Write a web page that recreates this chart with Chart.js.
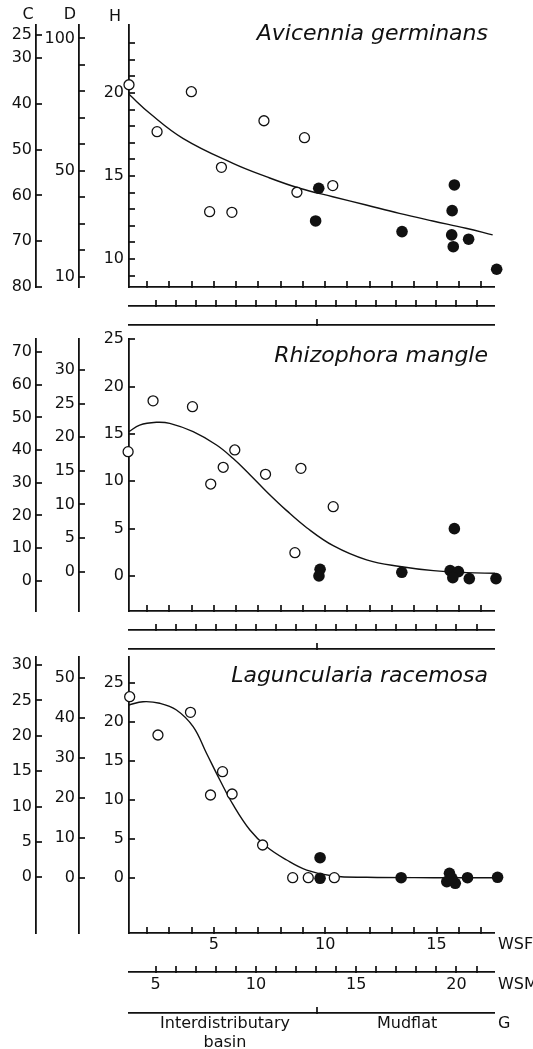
<!DOCTYPE html>
<html>
<head>
<meta charset="utf-8">
<title>Avicennia, Rhizophora, Laguncularia</title>
<script src="https://cdn.jsdelivr.net/npm/chart.js@4.4.1/dist/chart.umd.min.js"></script>
<style>
  html, body { margin: 0; padding: 0; background: #fff; }
  #sheet { position: relative; width: 533px; height: 1049px; overflow: hidden; }
  #sheet canvas { position: absolute; left: 0; top: 0; }
</style>
</head>
<body>
<div id="sheet">
  <canvas id="avi" width="533" height="1049"></canvas>
  <canvas id="rhi" width="533" height="1049"></canvas>
  <canvas id="lag" width="533" height="1049"></canvas>
</div>
<script>
// x axes, shared by the three panels
const wsfTicks = [2, 3, 4, 5, 6, 7, 8, 9, 10, 11, 12, 13, 14, 15, 16, 17];
const wsfLabels = [5, 10, 15];
const wsmTicks = [5, 6, 7, 8, 9, 10, 11, 12, 13, 14, 15, 16, 17, 18, 19, 20, 21];
const wsmLabels = [5, 10, 15, 20];
const gBoundary = [9.65];
const gNameAt = [5.5, 13.68];
const gNames = [['Interdistributary', 'basin'], 'Mudflat'];

// Avicennia germinans
const aviOpenX = [1.19, 2.45, 3.99, 5.34, 4.81, 5.81, 7.25, 9.07, 8.73, 10.34];
const aviOpenY = [20.5, 17.67, 20.08, 15.52, 12.85, 12.81, 18.33, 17.31, 14.02, 14.42];
const aviFillX = [9.71, 9.57, 13.45, 15.80, 15.70, 15.68, 15.75, 16.44, 17.70];
const aviFillY = [14.26, 12.29, 11.65, 14.46, 12.91, 11.45, 10.74, 11.19, 9.38];
const aviCurveX = [1.19, 2.12, 3.61, 5.86, 7.35, 8.85, 10.34, 11.84, 13.33, 14.83, 16.32, 17.52];
const aviCurveY = [19.92, 18.78, 17.27, 15.76, 14.96, 14.26, 13.75, 13.25, 12.75, 12.29, 11.85, 11.45];
const aviCTicks = [25, 30, 40, 50, 60, 70, 80];
const aviDTicks = [10, 20, 30, 40, 50, 60, 70, 80, 90, 100];
const aviDLabels = [10, 50, 100];
const aviHTicks = [9, 10, 11, 12, 13, 14, 15, 16, 17, 18, 19, 20, 21, 22, 23];
const aviHLabels = [10, 15, 20];

// Rhizophora mangle
const rhiOpenX = [1.15, 2.27, 4.04, 4.86, 5.42, 5.94, 7.32, 8.91, 10.36, 8.64];
const rhiOpenY = [13.13, 18.5, 17.88, 9.71, 11.48, 13.31, 10.74, 11.37, 7.32, 2.46];
const rhiFillX = [9.77, 9.72, 13.44, 15.80, 15.61, 15.98, 15.73, 16.47, 17.67];
const rhiFillY = [0.7, 0.0, 0.39, 5.0, 0.56, 0.46, -0.18, -0.28, -0.28];
const rhiCurveX = [1.19, 1.67, 2.42, 3.02, 4.07, 5.12, 5.87, 6.62, 7.37, 8.27, 9.17, 10.36, 11.86, 13.36, 14.86, 16.36, 17.63];
const rhiCurveY = [15.24, 15.94, 16.23, 16.12, 15.24, 13.83, 12.4, 10.7, 8.9, 6.9, 5.1, 3.2, 1.7, 1.0, 0.56, 0.35, 0.28];
const rhiCTicks = [0, 10, 20, 30, 40, 50, 60, 70];
const rhiDTicks = [0, 5, 10, 15, 20, 25, 30];
const rhiHTicks = [0, 5, 10, 15, 20, 25];

// Laguncularia racemosa
const lagOpenX = [1.22, 2.49, 3.95, 4.85, 5.39, 5.82, 7.19, 8.54, 9.24, 10.41];
const lagOpenY = [23.28, 18.37, 21.28, 10.68, 13.67, 10.81, 4.27, 0.08, 0.08, 0.08];
const lagFillX = [9.77, 9.77, 13.41, 15.58, 15.46, 15.84, 15.69, 16.39, 17.74];
const lagFillY = [2.64, 0, 0.08, 0.64, -0.43, -0.64, 0, 0.08, 0.13];
const lagCurveX = [1.19, 1.82, 2.57, 3.32, 4.07, 4.67, 5.27, 5.87, 6.62, 7.37, 8.27, 9.17, 10.36, 11.86, 14.86, 17.71];
const lagCurveY = [22.22, 22.64, 22.44, 21.58, 19.44, 16.03, 12.6, 9.4, 6.19, 4.05, 2.35, 1.06, 0.29, 0.13, 0.08, 0.08];
const lagCTicks = [0, 5, 10, 15, 20, 25, 30];
const lagDTicks = [0, 10, 20, 30, 40, 50];
const lagHTicks = [0, 5, 10, 15, 20, 25];

const INK = '#111';
const FONT = { family: 'DejaVu Sans', size: 16, weight: 'normal', lineHeight: 1.2 };
const TICK = 6;

const pairs = (xs, ys) => xs.map((x, i) => ({ x: x, y: ys[i] }));

function tickList(values, extra) {
    return values.concat(extra || []).map(v => ({ value: v }));
}

// inward tick marks, species names and axis names
const sketch = {
    id: 'sketch',
    afterDraw(chart, args, o) {
        const ctx = chart.ctx;
        const area = chart.chartArea;
        ctx.save();
        ctx.strokeStyle = INK;
        ctx.fillStyle = INK;
        ctx.lineWidth = 1.7;
        Object.keys(o.marks).forEach(id => {
            const s = chart.scales[id];
            o.marks[id].forEach(v => {
                const p = Math.round(s.getPixelForValue(v));
                ctx.beginPath();
                if (s.isHorizontal()) {
                    ctx.moveTo(p, s.top + 1);
                    ctx.lineTo(p, s.top - TICK);
                } else {
                    ctx.moveTo(s.right - 1, p);
                    ctx.lineTo(s.right + TICK, p);
                }
                ctx.stroke();
            });
        });

        ctx.font = 'italic 22px "DejaVu Sans"';
        ctx.textAlign = 'right';
        ctx.textBaseline = 'alphabetic';
        ctx.fillText(o.species, area.right - 6, area.top + o.drop);

        ctx.font = '16px "DejaVu Sans"';
        ctx.textBaseline = 'middle';
        (o.names || []).forEach(n => {
            const s = chart.scales[n.axis];
            if (s.isHorizontal()) {
                ctx.textAlign = 'left';
                ctx.fillText(n.text, s.right + 4, s.top + n.dy);
            } else {
                ctx.textAlign = 'center';
                ctx.fillText(n.text, s.right + n.dx, area.top + n.dy);
            }
        });
        ctx.restore();
    }
};

function yAxis(weight, width, range, values, labels, pad, reverse) {
    return {
        axis: 'y', type: 'linear', position: 'left', weight: weight,
        min: range[0], max: range[1], reverse: !!reverse, bounds: 'data',
        afterBuildTicks: s => { s.ticks = tickList(values); },
        afterFit: s => { s.width = width; },
        grid: { drawOnChartArea: false, drawTicks: false },
        border: { color: INK, width: 1.8 },
        ticks: {
            autoSkip: false, padding: pad, color: INK, font: FONT,
            callback: v => labels.includes(v) ? String(v) : ''
        }
    };
}

function xAxis(weight, height, range, values, labelFor, pad, show, extra) {
    return {
        axis: 'x', type: 'linear', position: 'bottom', weight: weight,
        min: range[0], max: range[1], bounds: 'data',
        afterBuildTicks: s => { s.ticks = tickList(values, extra); },
        afterFit: s => { s.height = height; },
        grid: { drawOnChartArea: false, drawTicks: false },
        border: { color: INK, width: 1.8 },
        ticks: {
            display: show, autoSkip: false, maxRotation: 0, padding: pad,
            color: INK, font: FONT, callback: labelFor
        }
    };
}

function makePanel(id, p) {
    const wsfRange = [1.19, 17.58];
    const datasets = [
        { data: pairs(p.openX, p.openY), pointRadius: 5, pointBorderWidth: 1.3,
          pointBackgroundColor: '#fff', pointBorderColor: INK },
        { data: pairs(p.fillX, p.fillY), pointRadius: 5.8, pointBorderWidth: 0,
          pointBackgroundColor: INK, pointBorderColor: INK },
        { data: pairs(p.curveX, p.curveY), showLine: true, pointRadius: 0,
          borderColor: INK, borderWidth: 1.4, tension: 0.4 }
    ].map(d => Object.assign({ xAxisID: 'x', yAxisID: 'h', clip: false }, d));

    return new Chart(document.getElementById(id), {
        type: 'scatter',
        data: { datasets: datasets },
        options: {
            responsive: false,
            animation: false,
            events: [],
            layout: { autoPadding: false, padding: { left: 0, right: 39, top: p.top, bottom: p.bottom } },
            plugins: {
                legend: { display: false },
                tooltip: { enabled: false },
                sketch: {
                    species: p.species, drop: p.drop, names: p.names,
                    marks: { x: wsfTicks, wsm: wsmTicks, g: gBoundary, c: p.cTicks, d: p.dTicks, h: p.hTicks }
                }
            },
            scales: {
                x: xAxis(0, p.xh[0], wsfRange, wsfTicks,
                    v => wsfLabels.includes(v) ? String(v) : '', 2.4, p.showX),
                wsm: xAxis(1, p.xh[1], [3.67, 21.87], wsmTicks,
                    v => wsmLabels.includes(v) ? String(v) : '', 3.4, p.showX),
                g: xAxis(2, p.xh[2], wsfRange, gBoundary, v => {
                    const i = gNameAt.indexOf(v);
                    return i < 0 ? '' : gNames[i];
                }, 1.4, p.showX, gNameAt),
                c: yAxis(2, 36, p.cRange, p.cTicks, p.cTicks, 4, p.cReverse),
                d: yAxis(1, 43, p.dRange, p.dTicks, p.dLabels, 4),
                h: yAxis(0, 50, p.hRange, p.hTicks, p.hLabels, 5)
            }
        },
        plugins: [sketch]
    });
}

makePanel('avi', {
    species: 'Avicennia germinans', drop: 15,
    openX: aviOpenX, openY: aviOpenY, fillX: aviFillX, fillY: aviFillY,
    curveX: aviCurveX, curveY: aviCurveY,
    top: 25, bottom: 714, xh: [19, 19, 10], showX: false,
    hRange: [8.31, 24.10], hTicks: aviHTicks, hLabels: aviHLabels,
    cRange: [22.8, 80], cTicks: aviCTicks, cReverse: true,
    dRange: [6.1, 105.1], dTicks: aviDTicks, dLabels: aviDLabels,
    names: [
        { axis: 'c', text: 'C', dx: -8, dy: -10 },
        { axis: 'd', text: 'D', dx: -9, dy: -10 },
        { axis: 'h', text: 'H', dx: -14, dy: -8 }
    ]
});

makePanel('rhi', {
    species: 'Rhizophora mangle', drop: 23,
    openX: rhiOpenX, openY: rhiOpenY, fillX: rhiFillX, fillY: rhiFillY,
    curveX: rhiCurveX, curveY: rhiCurveY,
    top: 339, bottom: 394, xh: [19, 19, 6], showX: false,
    hRange: [-3.70, 25.03], hTicks: rhiHTicks, hLabels: rhiHTicks,
    cRange: [-9.27, 73.98], cTicks: rhiCTicks,
    dRange: [-5.85, 34.61], dTicks: rhiDTicks, dLabels: rhiDTicks
});

makePanel('lag', {
    species: 'Laguncularia racemosa', drop: 25,
    openX: lagOpenX, openY: lagOpenY, fillX: lagFillX, fillY: lagFillY,
    curveX: lagCurveX, curveY: lagCurveY,
    top: 657, bottom: 0, xh: [39, 41, 36], showX: true,
    hRange: [-7.01, 28.37], hTicks: lagHTicks, hLabels: lagHTicks,
    cRange: [-7.87, 31.13], cTicks: lagCTicks,
    dRange: [-13.7, 55.3], dTicks: lagDTicks, dLabels: lagDTicks,
    names: [
        { axis: 'x', text: 'WSF', dy: 12 },
        { axis: 'wsm', text: 'WSM', dy: 13 },
        { axis: 'g', text: 'G', dy: 11 }
    ]
});
</script>
</body>
</html>
